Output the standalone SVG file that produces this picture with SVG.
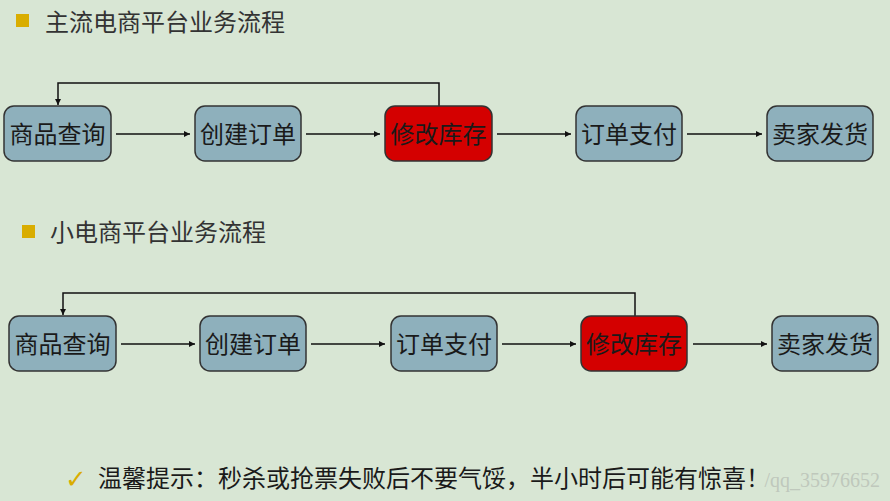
<svg xmlns="http://www.w3.org/2000/svg" width="890" height="501" viewBox="0 0 890 501">
<defs>
<style>
.bg{fill:#d8e6d4}
.box{fill:#8eb0bc;stroke:#333;stroke-width:1.5}
.red{fill:#d40000;stroke:#333;stroke-width:1.5}
.lbl{font-family:"Noto Sans CJK SC","Noto Sans",sans-serif;font-size:24px;fill:#1a1a1a;text-anchor:middle}
.title{font-family:"Noto Sans CJK SC","Noto Sans",sans-serif;font-size:24px;fill:#333}
.bullet{fill:#d9ad00}
.conn{fill:none;stroke:#111;stroke-width:1.5}
.wm{font-family:"Liberation Serif",serif;font-size:20px;fill:#bfc8bc;text-anchor:end}
</style>
<marker id="arr" viewBox="0 0 10 10" refX="10" refY="5" markerWidth="6" markerHeight="6" markerUnits="userSpaceOnUse" orient="auto">
<path d="M0,0 L10,5 L0,10 Z" fill="#111"/>
</marker>
</defs>
<rect class="bg" x="0" y="0" width="890" height="501"/>
<text class="wm" x="880" y="487">/qq_35976652</text>

<g id="title1">
<rect class="bullet" x="16" y="14" width="13" height="13"/>
<text class="title" x="45" y="31">主流电商平台业务流程</text>
</g>
<g id="title2">
<rect class="bullet" x="22" y="225" width="13" height="13"/>
<text class="title" x="50" y="241">小电商平台业务流程</text>
</g>

<g id="connectors">
<line class="conn" x1="116" y1="134" x2="190" y2="134" marker-end="url(#arr)"/>
<line class="conn" x1="306" y1="134" x2="380" y2="134" marker-end="url(#arr)"/>
<line class="conn" x1="497" y1="134" x2="571" y2="134" marker-end="url(#arr)"/>
<line class="conn" x1="687" y1="134" x2="762" y2="134" marker-end="url(#arr)"/>
<polyline class="conn" points="439,106 439,83 58,83 58,105" marker-end="url(#arr)"/>
<line class="conn" x1="121" y1="344" x2="195" y2="344" marker-end="url(#arr)"/>
<line class="conn" x1="311" y1="344" x2="385" y2="344" marker-end="url(#arr)"/>
<line class="conn" x1="502" y1="344" x2="576" y2="344" marker-end="url(#arr)"/>
<line class="conn" x1="693" y1="344" x2="767" y2="344" marker-end="url(#arr)"/>
<polyline class="conn" points="635,316 635,293 63,293 63,315" marker-end="url(#arr)"/>
</g>

<g id="r1n1"><rect class="box" x="4" y="106" width="107" height="55" rx="10"/><text class="lbl" x="57.5" y="143">商品查询</text></g>
<g id="r1n2"><rect class="box" x="195" y="106" width="106" height="55" rx="10"/><text class="lbl" x="248" y="143">创建订单</text></g>
<g id="r1n3"><rect class="red" x="385" y="106" width="107" height="55" rx="10"/><text class="lbl" x="438.5" y="143">修改库存</text></g>
<g id="r1n4"><rect class="box" x="576" y="106" width="106" height="55" rx="10"/><text class="lbl" x="629" y="143">订单支付</text></g>
<g id="r1n5"><rect class="box" x="767" y="106" width="106" height="55" rx="10"/><text class="lbl" x="820" y="143">卖家发货</text></g>

<g id="r2n1"><rect class="box" x="9" y="316" width="107" height="55" rx="10"/><text class="lbl" x="62.5" y="353">商品查询</text></g>
<g id="r2n2"><rect class="box" x="200" y="316" width="106" height="55" rx="10"/><text class="lbl" x="253" y="353">创建订单</text></g>
<g id="r2n3"><rect class="box" x="391" y="316" width="106" height="55" rx="10"/><text class="lbl" x="444" y="353">订单支付</text></g>
<g id="r2n4"><rect class="red" x="581" y="316" width="106" height="55" rx="10"/><text class="lbl" x="634" y="353">修改库存</text></g>
<g id="r2n5"><rect class="box" x="772" y="316" width="106" height="55" rx="10"/><text class="lbl" x="825" y="353">卖家发货</text></g>

<g id="tip">
<text x="65" y="488" font-family="DejaVu Sans,sans-serif" font-size="26" fill="#d9ad00">✓</text>
<text class="title" x="98" y="487" style="fill:#1a1a1a">温馨提示：秒杀或抢票失败后不要气馁，半小时后可能有惊喜！</text>
</g>
</svg>
